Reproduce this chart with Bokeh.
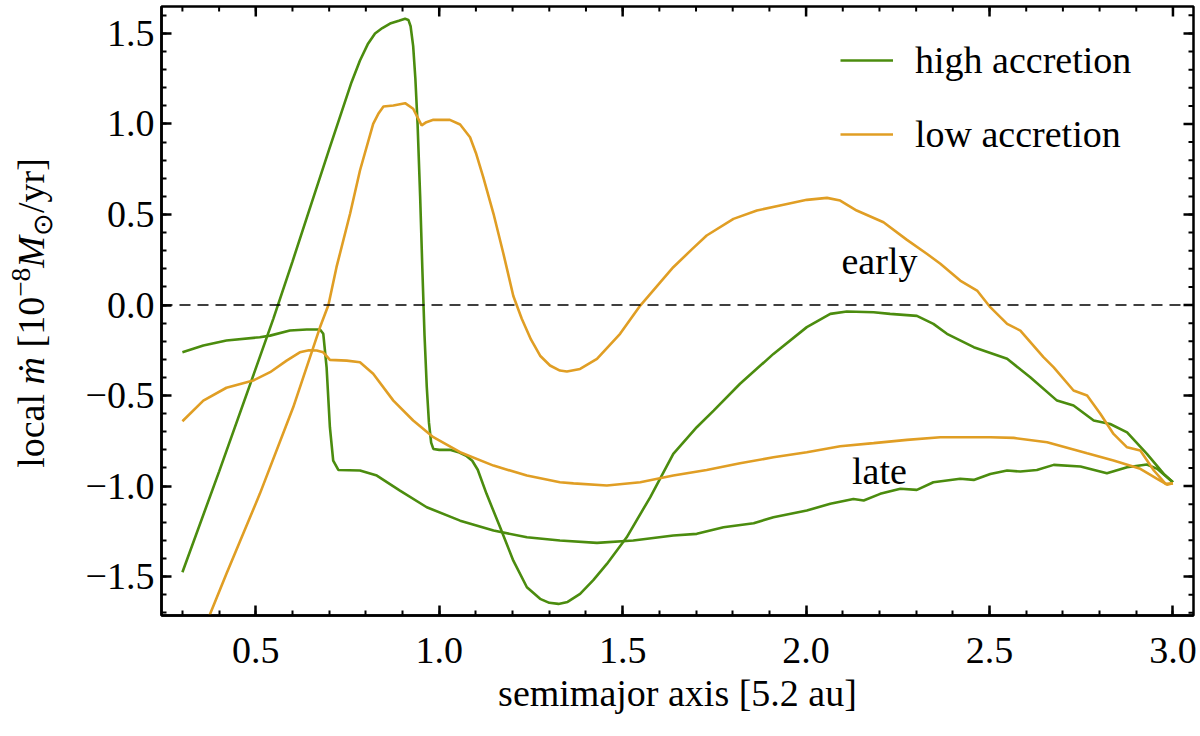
import math
from bokeh.plotting import figure
from bokeh.layouts import row
from bokeh.models import (Range1d, FixedTicker, Legend, LegendItem, Span, Div)
from bokeh.embed import file_html
from bokeh.resources import INLINE
from bokeh.core.properties import value

# ---------------- data ----------------
high_early_x = [0.300, 0.400, 0.500, 0.548, 0.600, 0.650, 0.700, 0.761, 0.784, 0.805, 0.825, 0.845, 0.866, 0.890,
                0.907, 0.916, 0.922, 0.929, 0.935, 0.941, 0.948, 0.954, 0.960, 0.966, 0.972, 0.978, 0.984, 1.000,
                1.029, 1.055, 1.075, 1.090, 1.105, 1.129, 1.166, 1.202, 1.239, 1.275, 1.300, 1.325, 1.350, 1.384,
                1.420, 1.457, 1.511, 1.575, 1.638, 1.702, 1.748, 1.820, 1.911, 2.002, 2.066, 2.111, 2.184, 2.229,
                2.302, 2.347, 2.384, 2.457, 2.548, 2.611, 2.684, 2.729, 2.784, 2.829, 2.875, 2.929, 2.975, 3.000]
high_early_y = [-1.476, -0.920, -0.350, -0.075, 0.240, 0.550, 0.860, 1.231, 1.351, 1.440, 1.500, 1.530, 1.555, 1.570,
                1.581, 1.575, 1.540, 1.430, 1.250, 1.000, 0.600, 0.200, -0.170, -0.450, -0.650, -0.760, -0.795, -0.800,
                -0.800, -0.815, -0.835, -0.860, -0.910, -1.043, -1.228, -1.412, -1.559, -1.623, -1.645, -1.651, -1.640, -1.596,
                -1.520, -1.430, -1.283, -1.062, -0.822, -0.675, -0.583, -0.435, -0.270, -0.122, -0.049, -0.036, -0.040, -0.049,
                -0.060, -0.104, -0.159, -0.233, -0.297, -0.399, -0.528, -0.555, -0.638, -0.657, -0.703, -0.822, -0.933, -0.979]

high_late_x = [0.300, 0.357, 0.420, 0.511, 0.539, 0.593, 0.639, 0.675, 0.684, 0.693, 0.702, 0.711, 0.725,
               0.784, 0.830, 0.893, 0.966, 1.057, 1.148, 1.239, 1.329, 1.430, 1.529, 1.638, 1.702, 1.775,
               1.857, 1.911, 2.002, 2.066, 2.129, 2.157, 2.202, 2.257, 2.302, 2.347, 2.420, 2.457, 2.502,
               2.548, 2.584, 2.629, 2.675, 2.748, 2.820, 2.875, 2.929, 2.957, 3.000]
high_late_y = [-0.261, -0.224, -0.196, -0.178, -0.169, -0.141, -0.135, -0.135, -0.159, -0.344, -0.675, -0.859, -0.911,
               -0.914, -0.942, -1.025, -1.117, -1.191, -1.246, -1.283, -1.301, -1.314, -1.301, -1.273, -1.264, -1.228,
               -1.205, -1.172, -1.135, -1.098, -1.071, -1.080, -1.043, -1.015, -1.021, -0.979, -0.960, -0.966, -0.933,
               -0.914, -0.920, -0.911, -0.883, -0.892, -0.929, -0.896, -0.881, -0.905, -0.979]

low_early_x = [0.370, 0.420, 0.511, 0.602, 0.675, 0.698, 0.720, 0.757, 0.784, 0.820, 0.835, 0.848, 0.875,
               0.907, 0.929, 0.952, 0.965, 0.984, 1.029, 1.057, 1.084, 1.100, 1.120, 1.148, 1.175, 1.202, 1.225,
               1.250, 1.275, 1.302, 1.329, 1.348, 1.384, 1.430, 1.493, 1.548, 1.600, 1.638, 1.690, 1.729, 1.802,
               1.866, 1.929, 2.002, 2.057, 2.093, 2.138, 2.211, 2.275, 2.329, 2.366, 2.420, 2.466, 2.502, 2.548,
               2.584, 2.647, 2.675, 2.729, 2.766, 2.802, 2.838, 2.875, 2.911, 2.948, 2.980, 3.000]
low_early_y = [-1.734, -1.485, -1.043, -0.565, -0.123, 0.000, 0.209, 0.504, 0.743, 1.001, 1.060, 1.097, 1.102,
               1.115, 1.084, 0.992, 1.010, 1.023, 1.023, 0.997, 0.927, 0.840, 0.706, 0.504, 0.283, 0.050, -0.076,
               -0.190, -0.280, -0.334, -0.362, -0.367, -0.353, -0.297, -0.159, -0.003, 0.120, 0.209, 0.310, 0.384, 0.476,
               0.522, 0.550, 0.581, 0.592, 0.577, 0.522, 0.457, 0.360, 0.283, 0.228, 0.135, 0.080, -0.012, -0.104,
               -0.141, -0.288, -0.344, -0.472, -0.500, -0.601, -0.712, -0.786, -0.804, -0.914, -0.988, -0.985]

low_late_x = [0.300, 0.357, 0.420, 0.493, 0.539, 0.584, 0.620, 0.645, 0.666, 0.684, 0.702, 0.748, 0.784,
              0.820, 0.875, 0.929, 0.984, 1.057, 1.148, 1.239, 1.329, 1.366, 1.457, 1.548, 1.638, 1.729,
              1.820, 1.911, 2.002, 2.093, 2.184, 2.275, 2.366, 2.502, 2.566, 2.657, 2.766, 2.838, 2.911,
              2.957, 2.984, 3.000]
low_late_y = [-0.642, -0.528, -0.457, -0.417, -0.371, -0.307, -0.261, -0.250, -0.251, -0.261, -0.303, -0.307, -0.316,
              -0.380, -0.528, -0.638, -0.730, -0.813, -0.887, -0.942, -0.979, -0.985, -0.997, -0.979, -0.942, -0.911,
              -0.874, -0.841, -0.813, -0.780, -0.763, -0.745, -0.730, -0.730, -0.734, -0.758, -0.819, -0.859, -0.905,
              -0.960, -0.992, -0.985]

series_names = ["high accretion", "low accretion"]
series_colors = ["#4b8c0e", "#e09e24"]

annot_text = ["early", "late"]
annot_x = [2.2, 2.2]
annot_y = [0.245, -0.915]

x_major = [0.5, 1.0, 1.5, 2.0, 2.5, 3.0]
x_major_labels = ["0.5", "1.0", "1.5", "2.0", "2.5", "3.0"]
x_minor = [round(0.3 + 0.1 * i, 2) for i in range(28)]
y_major = [-1.5, -1.0, -0.5, 0.0, 0.5, 1.0, 1.5]
y_major_labels = ["\u22121.5", "\u22121.0", "\u22120.5", "0.0", "0.5", "1.0", "1.5"]
y_minor = [round(-1.7 + 0.1 * i, 2) for i in range(34)]

x_label = "semimajor axis [5.2 au]"
y_label_html = ("local <i>\u1e41</i> [10<sup style='font-size:0.72em'>\u22128</sup>"
                "<i>M</i><sub style='font-size:0.72em'>\u2299</sub>/yr]")

FONT = "Liberation Serif"
FS = "38px"
DIV_W = 70

# ---------------- figure ----------------
p = figure(width=1200 - DIV_W, height=736, output_backend="svg", toolbar_location=None,
           x_range=Range1d(0.243, 3.056), y_range=Range1d(-1.715, 1.649),
           min_border_left=161 - DIV_W, min_border_right=7, min_border_top=6, min_border_bottom=121,
           margin=0)
p.grid.visible = False
p.outline_line_color = "black"
p.outline_line_width = 2.5
p.background_fill_color = "white"
p.border_fill_color = "white"

def style_axis(ax, ticks, minor, labels):
    ax.ticker = FixedTicker(ticks=ticks, minor_ticks=minor)
    ax.major_tick_in = 10
    ax.major_tick_out = 0
    ax.minor_tick_in = 5
    ax.minor_tick_out = 0
    ax.major_tick_line_width = 2.5
    ax.minor_tick_line_width = 2
    ax.major_tick_line_color = "black"
    ax.minor_tick_line_color = "black"
    ax.axis_line_width = 2.5
    ax.axis_line_color = "black"
    ax.major_label_overrides = {t: l for t, l in zip(ticks, labels)}
    ax.major_label_text_font = FONT
    ax.major_label_text_font_size = FS
    ax.major_label_text_color = "black"

xa = p.xaxis[0]
style_axis(xa, x_major, x_minor, x_major_labels)
xa.major_label_standoff = 22
xa.axis_label = x_label
xa.axis_label_text_font = FONT
xa.axis_label_text_font_size = FS
xa.axis_label_text_font_style = "normal"
xa.axis_label_text_color = "black"
xa.axis_label_standoff = 6

ya = p.yaxis[0]
style_axis(ya, y_major, y_minor, y_major_labels)
ya.major_label_standoff = 7

# inward ticks on the top and right frame edges (dash markers centred on the edge, clipped by the frame)
x_end = p.x_range.end
y_end = p.y_range.end
p.scatter(x=x_major, y=[y_end] * len(x_major), marker="dash", angle=math.pi / 2, size=20,
          line_color="black", line_width=2.5)
p.scatter(x=x_minor, y=[y_end] * len(x_minor), marker="dash", angle=math.pi / 2, size=10,
          line_color="black", line_width=2)
p.scatter(x=[x_end] * len(y_major), y=y_major, marker="dash", size=20, line_color="black", line_width=2.5)
p.scatter(x=[x_end] * len(y_minor), y=y_minor, marker="dash", size=10, line_color="black", line_width=2)

# zero line
p.add_layout(Span(location=0, dimension="width", line_color="black", line_width=1.6, line_dash="11 7"))

lw = 2.6
r_he = p.line(high_early_x, high_early_y, line_color=series_colors[0], line_width=lw)
r_hl = p.line(high_late_x, high_late_y, line_color=series_colors[0], line_width=lw)
r_le = p.line(low_early_x, low_early_y, line_color=series_colors[1], line_width=lw)
r_ll = p.line(low_late_x, low_late_y, line_color=series_colors[1], line_width=lw)

p.text(x=annot_x, y=annot_y, text=annot_text, text_font=value(FONT), text_font_size=FS,
       text_align="center", text_baseline="alphabetic", text_color="black")

legend = Legend(items=[LegendItem(label=series_names[0], renderers=[r_he]),
                       LegendItem(label=series_names[1], renderers=[r_le])],
                location=(679, 459), padding=0, margin=0, spacing=30,
                glyph_width=53, glyph_height=40, label_height=40, label_standoff=22,
                label_text_font=FONT, label_text_font_size=FS, label_text_color="black",
                border_line_color=None, background_fill_alpha=0)
p.add_layout(legend)

# y-axis label (rotated, with italic / super- / subscript parts)
div = Div(width=DIV_W, height=736, margin=0,
          text=("<div style=\"position:absolute; left:33px; top:313px; "
                "transform:translate(-50%,-50%) rotate(-90deg); white-space:nowrap; "
                "font-family:'Liberation Serif'; font-size:38px; color:black; line-height:1;\">"
                + y_label_html + "</div>"),
          styles={"position": "relative", "overflow": "visible", "background-color": "white"})

layout = row(div, p, spacing=0)
open("out.html", "w").write(file_html(layout, INLINE))
